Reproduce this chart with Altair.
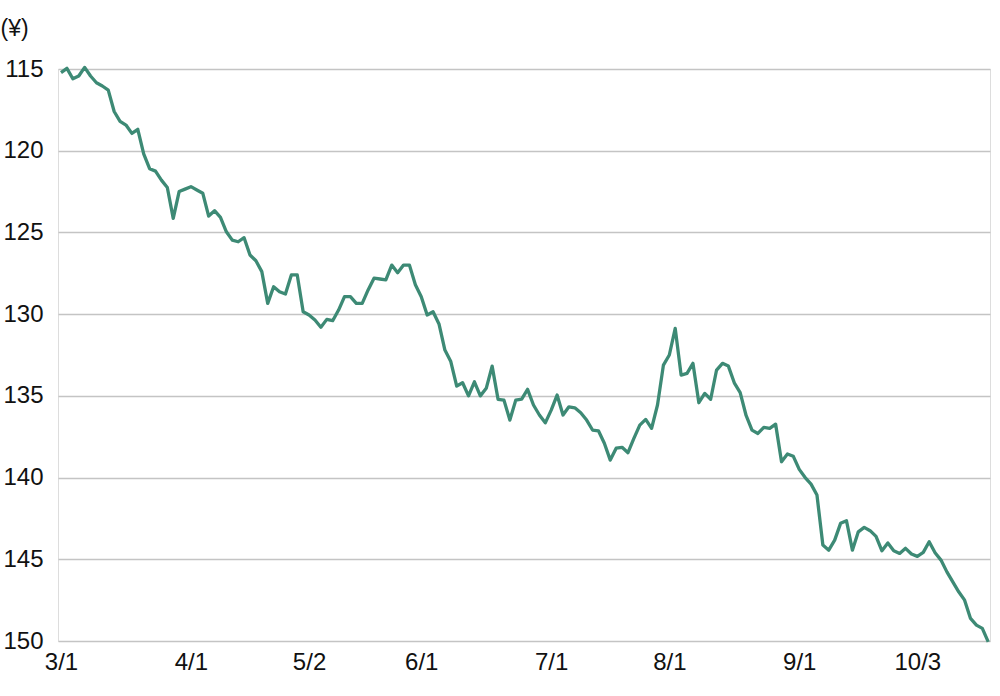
import altair as alt
import pandas as pd

# USD/JPY (Tokyo trading days), index 0 = 3/1
rates = [
    115.22, 114.96, 115.60, 115.43, 114.90, 115.43, 115.84, 116.04, 116.29, 117.60,
    118.20, 118.43, 118.94, 118.69, 120.20, 121.10, 121.25, 121.80, 122.25, 124.14,
    122.50, 122.35, 122.20, 122.40, 122.60, 124.00, 123.67, 124.08, 124.96, 125.47,
    125.57, 125.32, 126.38, 126.73, 127.40, 129.34, 128.32, 128.63, 128.77, 127.60,
    127.60, 129.85, 130.05, 130.36, 130.80, 130.32, 130.40, 129.75, 128.93, 128.93,
    129.34, 129.34, 128.52, 127.80, 127.85, 127.90, 127.00, 127.47, 127.00, 127.00,
    128.20, 128.93, 130.05, 129.85, 130.60, 132.20, 132.90, 134.40, 134.20, 135.00,
    134.14, 135.00, 134.54, 133.18, 135.21, 135.26, 136.48, 135.26, 135.20, 134.60,
    135.56, 136.17, 136.65, 135.87, 134.95, 136.17, 135.67, 135.73, 136.03, 136.48,
    137.09, 137.14, 137.90, 138.93, 138.20, 138.15, 138.48, 137.60, 136.79, 136.44,
    136.99, 135.56, 133.12, 132.50, 130.87, 133.73, 133.62, 133.01, 135.42, 134.85,
    135.21, 133.42, 133.01, 133.18, 134.20, 134.80, 136.20, 137.10, 137.30, 136.93,
    136.99, 136.73, 139.03, 138.56, 138.70, 139.50, 140.00, 140.40, 141.07, 144.13,
    144.44, 143.83, 142.80, 142.64, 144.44, 143.32, 143.05, 143.25, 143.60, 144.48,
    144.00, 144.48, 144.64, 144.33, 144.68, 144.82, 144.58, 143.93, 144.60, 145.05,
    145.77, 146.38, 146.99, 147.50, 148.62, 149.03, 149.23, 150.05,
]
tick_positions = [0, 22, 42, 61, 83, 103, 125, 145]
tick_labels = ["3/1", "4/1", "5/2", "6/1", "7/1", "8/1", "9/1", "10/3"]
y_ticks = [115, 120, 125, 130, 135, 140, 145, 150]

df = pd.DataFrame({"idx": list(range(len(rates))), "rate": rates})

pos_str = "[" + ",".join(str(p) for p in tick_positions) + "]"
lab_str = "[" + ",".join("'" + t + "'" for t in tick_labels) + "]"
label_expr = f"{lab_str}[indexof({pos_str}, datum.value)]"

FONT = "Liberation Sans"

chart = (
    alt.Chart(df)
    .mark_line(color="#3d8a75", strokeWidth=3.3, strokeJoin="round")
    .encode(
        x=alt.X(
            "idx:Q",
            scale=alt.Scale(domain=[-0.51, 157.3], nice=False, zero=False),
            axis=alt.Axis(
                values=tick_positions,
                labelExpr=label_expr,
                grid=False,
                domain=False,
                ticks=False,
                labelPadding=9,
                labelFontSize=24,
                labelFont=FONT,
                labelColor="#111111",
                labelBaseline="top",
                title=None,
            ),
        ),
        y=alt.Y(
            "rate:Q",
            scale=alt.Scale(domain=[115, 150], reverse=True, nice=False, zero=False),
            axis=alt.Axis(
                values=y_ticks,
                grid=True,
                gridColor="#c4c4c4",
                gridWidth=1.5,
                domain=False,
                ticks=False,
                labelPadding=15,
                labelFontSize=24,
                labelFont=FONT,
                labelColor="#111111",
                title="(¥)",
                titleAngle=0,
                titleAlign="left",
                titleBaseline="middle",
                titleX=-58,
                titleY=-41,
                titleFontSize=23,
                titleFontWeight="normal",
                titleFont=FONT,
                titleColor="#111111",
            ),
        ),
    )
    .properties(
        width=932,
        height=572,
        padding={"left": 58, "top": 69, "right": 10, "bottom": 55},
        autosize=alt.AutoSizeParams(type="none"),
    )
    .configure_view(stroke=None)
    .configure(background="white")
)

chart.save("out.html", embed_options={"renderer": "svg", "actions": False})
